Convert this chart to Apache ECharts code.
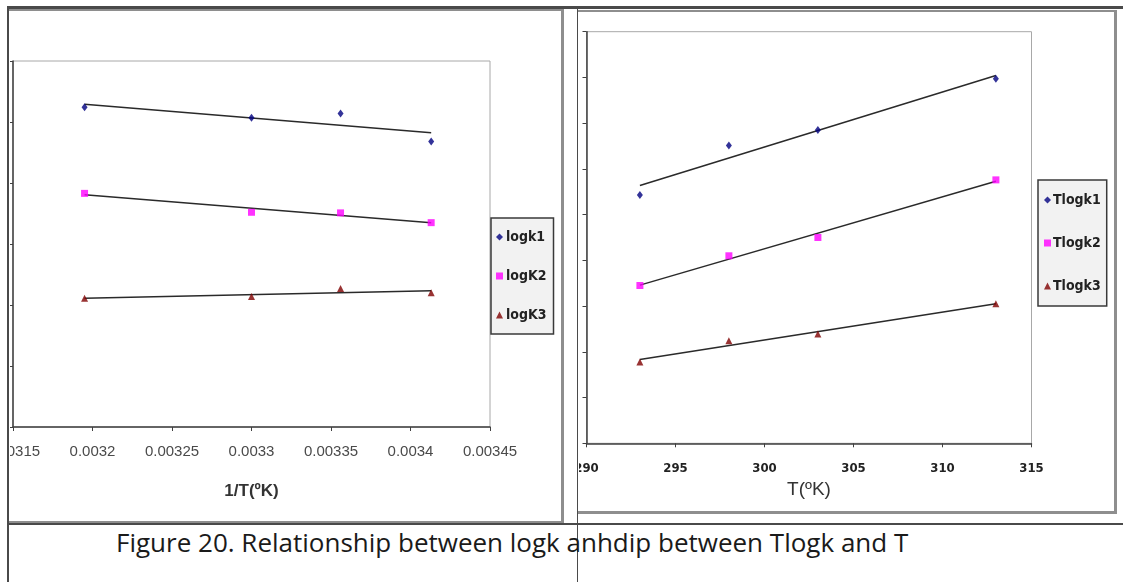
<!DOCTYPE html>
<html>
<head>
<meta charset="utf-8">
<style>
  body { margin: 0; background: #fff; width: 1123px; height: 582px; position: relative; overflow: hidden; }
  .ln { position: absolute; background: #4a4a4a; }
  .frame { position: absolute; box-sizing: border-box; border: 3px solid #8e8e8e; background: #fff; }
  #cap { position: absolute; left: 116px; top: 524px; font-family: 'Open Sans'; font-size: 26px; color: #1a1a1a; white-space: nowrap; }
</style>
</head>
<body>
  <div class="frame" style="left:8px;top:8px;width:556px;height:516px;border-left-width:1px"></div>
  <div class="frame" style="left:577px;top:10px;width:540px;height:504px;border-width:2px 3px 3px 1px"></div>
  <div id="left" style="position:absolute;left:10px;top:10px;width:551px;height:511px"></div>
  <div id="right" style="position:absolute;left:579px;top:13px;width:535px;height:498px"></div>
  <div class="ln" style="left:8px;top:6px;width:1115px;height:3px"></div>
  <div class="ln" style="left:7px;top:6px;width:2px;height:576px"></div>
  <div class="ln" style="left:577px;top:6px;width:1px;height:576px"></div>
  <div class="ln" style="left:8px;top:523px;width:1115px;height:2px"></div>
  <div id="cap">Figure 20. Relationship between logk anhdip between Tlogk and T</div>

  <script src="https://cdn.jsdelivr.net/npm/echarts@6/dist/echarts.min.js"></script>
  <script>
    // left chart: logk against 1/T
    var invT = [0.003195, 0.0033, 0.003356, 0.003413];
    var logk1 = [5.24, 5.07, 5.14, 4.68];
    var logK2 = [3.83, 3.52, 3.51, 3.35];
    var logK3 = [2.11, 2.14, 2.27, 2.20];

    // right chart: Tlogk against T
    var tempK = [293, 298, 303, 313];
    var tlogk1 = [5.43, 6.51, 6.85, 7.97];
    var tlogk2 = [3.45, 4.10, 4.50, 5.76];
    var tlogk3 = [1.78, 2.24, 2.39, 3.05];

    var colors = ['#000080', '#ff00ff', '#800000'];
    var shapes = ['diamond', 'rect', 'triangle'];
    var sizes = [[6, 8], 7, 7];

    // least squares line, like the excel trendline
    function trend(xs, ys) {
      var n = xs.length, mx = 0, my = 0;
      for (var i = 0; i < n; i++) { mx += xs[i]; my += ys[i]; }
      mx /= n; my /= n;
      var sxy = 0, sxx = 0;
      for (var i = 0; i < n; i++) {
        sxy += (xs[i] - mx) * (ys[i] - my);
        sxx += (xs[i] - mx) * (xs[i] - mx);
      }
      var b = sxy / sxx, a = my - b * mx;
      var x0 = Math.min.apply(null, xs), x1 = Math.max.apply(null, xs);
      return [[x0, a + b * x0], [x1, a + b * x1]];
    }

    function pairs(xs, ys) {
      return xs.map(function (x, i) { return [x, ys[i]]; });
    }

    function buildSeries(xs, list, names) {
      var s = [];
      list.forEach(function (ys) {
        s.push({ type: 'line', data: trend(xs, ys), symbol: 'none', silent: true,
          lineStyle: { color: '#2a2a2a', width: 1.5 }, z: 1 });
      });
      list.forEach(function (ys, i) {
        s.push({ type: 'scatter', name: names[i], data: pairs(xs, ys), symbol: shapes[i],
          symbolSize: sizes[i], itemStyle: { color: colors[i] }, z: 3 });
      });
      return s;
    }

    var narrow = "'Liberation Sans Narrow', 'DejaVu Sans Condensed', sans-serif";

    var leftChart = echarts.init(document.getElementById('left'));
    var leftNames = ['logk1', 'logK2', 'logK3'];
    leftChart.setOption({
      animation: false,
      grid: { left: 3, top: 51, width: 477, height: 366, show: true, borderColor: '#a8a8a8', borderWidth: 1,
        containLabel: false, outerBoundsMode: 'none' },
      legend: {
        orient: 'vertical', left: 481, top: 208,
        data: leftNames.map(function (n, i) { return { name: n, icon: shapes[i] }; }),
        itemWidth: 7, itemHeight: 7, itemGap: 21,
        padding: [10, 7, 10, 5],
        backgroundColor: '#f2f2f2', borderColor: '#3a3a3a', borderWidth: 1.5, borderRadius: 0,
        textStyle: { fontFamily: narrow, fontWeight: 'bold', fontSize: 14, color: '#222', lineHeight: 18, padding: [0, 0, 0, -2] }
      },
      xAxis: {
        type: 'value', min: 0.00315, max: 0.00345, interval: 0.00005,
        name: '1/T(ºK)', nameLocation: 'middle', nameGap: 56,
        nameTextStyle: { fontFamily: 'Liberation Sans, Arial, sans-serif', fontWeight: 'bold', fontSize: 17, color: '#333' },
        axisLine: { lineStyle: { color: '#404040', width: 1.5 } },
        axisTick: { length: 4, lineStyle: { color: '#404040' } },
        axisLabel: { margin: 17, fontFamily: 'Liberation Sans, Arial, sans-serif', fontSize: 15, color: '#4a4a4a',
          showMinLabel: true, showMaxLabel: true,
          formatter: function (v) { return String(+v.toFixed(5)); } },
        splitLine: { show: false }
      },
      yAxis: {
        type: 'value', min: 0, max: 6, interval: 1,
        axisLine: { show: true, lineStyle: { color: '#404040', width: 1.5 } },
        axisTick: { show: true, length: 4, lineStyle: { color: '#404040' } },
        axisLabel: { show: false },
        splitLine: { show: false }
      },
      series: buildSeries(invT, [logk1, logK2, logK3], leftNames)
    });

    var rightChart = echarts.init(document.getElementById('right'));
    var rightNames = ['Tlogk1', 'Tlogk2', 'Tlogk3'];
    rightChart.setOption({
      animation: false,
      grid: { left: 7.5, top: 18.7, width: 445, height: 411.6, show: true, borderColor: '#a8a8a8', borderWidth: 1,
        containLabel: false, outerBoundsMode: 'none' },
      legend: {
        orient: 'vertical', left: 459, top: 167,
        data: rightNames.map(function (n, i) { return { name: n, icon: shapes[i] }; }),
        itemWidth: 7, itemHeight: 7, itemGap: 25,
        padding: [11, 6, 11, 6],
        backgroundColor: '#f2f2f2', borderColor: '#3a3a3a', borderWidth: 1.5, borderRadius: 0,
        textStyle: { fontFamily: narrow, fontWeight: 'bold', fontSize: 14, color: '#222', lineHeight: 18, padding: [0, 0, 0, -3] }
      },
      xAxis: {
        type: 'value', min: 290, max: 315, interval: 5,
        name: 'T(ºK)', nameLocation: 'middle', nameGap: 35,
        nameTextStyle: { fontFamily: 'Liberation Sans, Arial, sans-serif', fontSize: 19, color: '#333' },
        axisLine: { lineStyle: { color: '#404040', width: 1.5 } },
        axisTick: { length: 4, lineStyle: { color: '#404040' } },
        axisLabel: { margin: 19, fontFamily: narrow, fontWeight: 'bold', fontSize: 13, color: '#222',
          showMinLabel: true, showMaxLabel: true },
        splitLine: { show: false }
      },
      yAxis: {
        type: 'value', min: 0, max: 9, interval: 1,
        axisLine: { show: true, lineStyle: { color: '#404040', width: 1.5 } },
        axisTick: { show: true, length: 4, lineStyle: { color: '#404040' } },
        axisLabel: { show: false },
        splitLine: { show: false }
      },
      series: buildSeries(tempK, [tlogk1, tlogk2, tlogk3], rightNames)
    });
  </script>
</body>
</html>
